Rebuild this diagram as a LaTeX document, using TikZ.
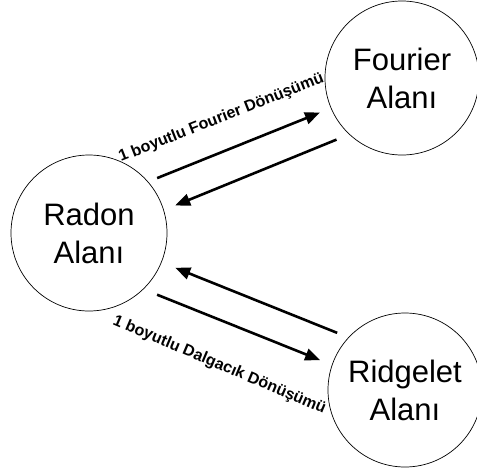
\documentclass[tikz,border=0pt]{standalone}
\usepackage{fontspec}
\setmainfont{Liberation Sans}
\usetikzlibrary{arrows.meta}

\begin{document}
\begin{tikzpicture}[x=1pt,y=-1pt,
  alan/.style={circle,draw=black,line width=0.7pt,inner sep=0pt,outer sep=0pt,align=center,font=\fontsize{31}{38}\selectfont},
  donusum/.style={-{Triangle[length=15pt,width=12pt]},line width=2.6pt},
  etiket/.style={font=\fontsize{16}{19}\selectfont\bfseries,anchor=base west,inner sep=0pt}]
\useasboundingbox (0,0) rectangle (477,475);
% ---------- domains ----------
\node[alan,minimum size=156pt] (radon) at (89,233) {Radon\\Alanı};
\node[alan,minimum size=154pt] (fourier) at (402,78) {Fourier\\Alanı};
\node[alan,minimum size=154pt] (ridgelet) at (405,390) {Ridgelet\\Alanı};
% ---------- transforms ----------
\draw[donusum,shorten <=10pt,shorten >=12pt] (radon.41) -- (fourier.203);
\draw[donusum,shorten <=14pt,shorten >=12.5pt] (fourier.227.5) -- (radon.17.5);
\draw[donusum,shorten <=12.4pt,shorten >=15pt] (ridgelet.137) -- (radon.338);
\draw[donusum,shorten <=15pt,shorten >=13pt] (radon.314) -- (ridgelet.161);
\node[etiket,rotate=21.5] (fftlbl) at (121,162) {1 boyutlu Fourier Dönüşümü};
\node[etiket,rotate=-23] (dwtlbl) at (112,324) {1 boyutlu Dalgacık Dönüşümü};
\end{tikzpicture}
\end{document}
